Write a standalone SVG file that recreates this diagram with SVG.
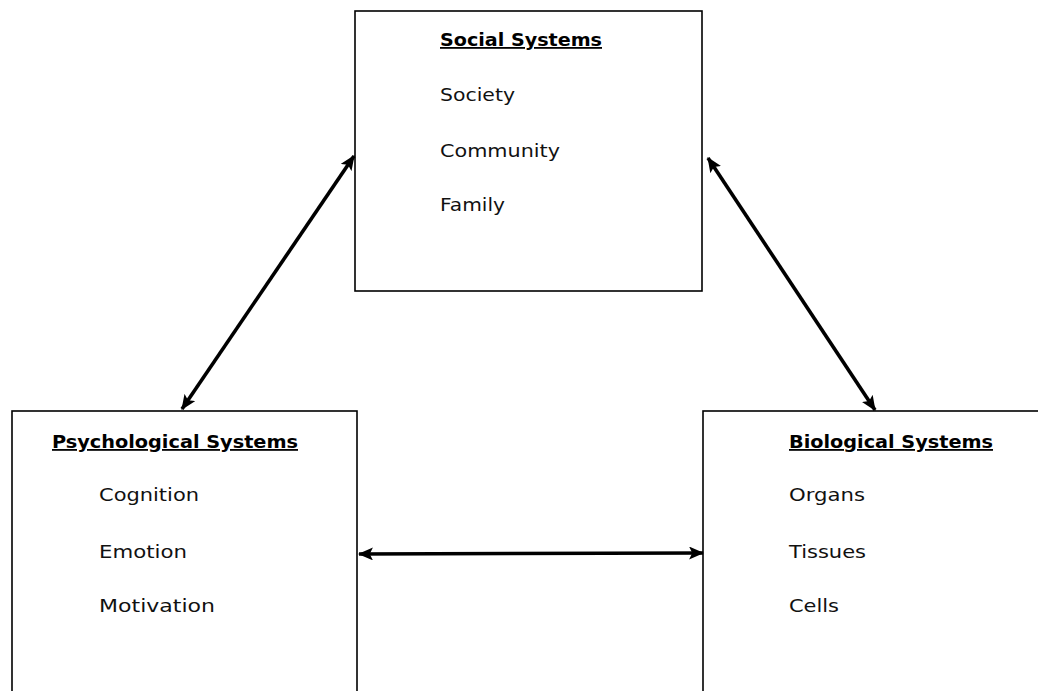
<svg xmlns="http://www.w3.org/2000/svg" width="1038" height="691" viewBox="0 0 1038 691">
  <style>
    .box { fill: #ffffff; stroke: #000000; stroke-width: 1.6; }
    .title { font-family: "DejaVu Sans", "Liberation Sans", sans-serif; font-size: 18px; font-weight: bold; fill: #000000; text-decoration: underline; }
    .item { font-family: "DejaVu Sans", "Liberation Sans", sans-serif; font-size: 18px; fill: #111111; }
    .link { stroke: #000000; stroke-width: 3.6; fill: none; marker-start: url(#head); marker-end: url(#head); }
  </style>
  <defs>
    <marker id="head" viewBox="0 0 14 12" refX="13" refY="6" markerWidth="15" markerHeight="13" markerUnits="userSpaceOnUse" orient="auto-start-reverse">
      <path d="M0,0 L14,6 L0,12 L3,6 Z" fill="#000000"/>
    </marker>
  </defs>
  <rect width="1038" height="691" fill="#ffffff"/>

  <g id="social-systems">
    <rect class="box" x="355" y="11" width="347" height="280"/>
    <text class="title" x="440" y="46" textLength="162" lengthAdjust="spacingAndGlyphs">Social Systems</text>
    <text class="item" x="440" y="101" textLength="75" lengthAdjust="spacingAndGlyphs">Society</text>
    <text class="item" x="440" y="157" textLength="120" lengthAdjust="spacingAndGlyphs">Community</text>
    <text class="item" x="440" y="211" textLength="65" lengthAdjust="spacingAndGlyphs">Family</text>
  </g>

  <g id="psychological-systems">
    <rect class="box" x="12" y="411" width="345" height="300"/>
    <text class="title" x="52" y="448" textLength="246" lengthAdjust="spacingAndGlyphs">Psychological Systems</text>
    <text class="item" x="99" y="501" textLength="100" lengthAdjust="spacingAndGlyphs">Cognition</text>
    <text class="item" x="99" y="558" textLength="88" lengthAdjust="spacingAndGlyphs">Emotion</text>
    <text class="item" x="99" y="612" textLength="116" lengthAdjust="spacingAndGlyphs">Motivation</text>
  </g>

  <g id="biological-systems">
    <rect class="box" x="703" y="411" width="360" height="300"/>
    <text class="title" x="789" y="448" textLength="204" lengthAdjust="spacingAndGlyphs">Biological Systems</text>
    <text class="item" x="789" y="501" textLength="76" lengthAdjust="spacingAndGlyphs">Organs</text>
    <text class="item" x="789" y="558" textLength="77" lengthAdjust="spacingAndGlyphs">Tissues</text>
    <text class="item" x="789" y="612" textLength="50" lengthAdjust="spacingAndGlyphs">Cells</text>
  </g>

  <g id="connectors">
    <line class="link" x1="182" y1="409" x2="354" y2="156"/>
    <line class="link" x1="708" y1="158" x2="875" y2="410"/>
    <line class="link" x1="359" y1="554" x2="703" y2="553"/>
  </g>
</svg>
